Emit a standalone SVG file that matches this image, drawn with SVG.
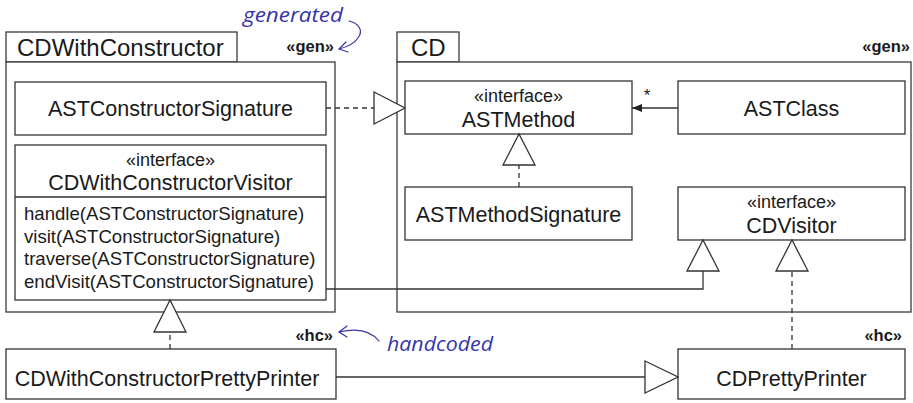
<svg xmlns="http://www.w3.org/2000/svg" width="913" height="403" viewBox="0 0 913 403">
  <defs>
    <style>
      .frame { fill: #ffffff; stroke: #3a3a3a; stroke-width: 1.3; }
      .box { fill: #ffffff; stroke: #333333; stroke-width: 1.3; }
      .sep { stroke: #333333; stroke-width: 1.3; }
      .title { font-family: "Liberation Sans", Arial, sans-serif; font-size: 24px; fill: #1a1a1a; }
      .name { font-family: "Liberation Sans", Arial, sans-serif; font-size: 21.5px; fill: #1a1a1a; text-anchor: middle; }
      .stereo { font-family: "Liberation Sans", Arial, sans-serif; font-size: 18px; fill: #1a1a1a; text-anchor: middle; }
      .op { font-family: "Liberation Sans", Arial, sans-serif; font-size: 18.6px; fill: #1a1a1a; }
      .tag { font-family: "Liberation Sans", Arial, sans-serif; font-size: 16.5px; font-weight: bold; fill: #1a1a1a; text-anchor: end; }
      .note { font-family: "Open Sans", "DejaVu Sans", sans-serif; font-style: italic; font-size: 20px; fill: #3535a8; }
      .note-arrow { fill: none; stroke: #3535a8; stroke-width: 1.2; stroke-linecap: round; stroke-linejoin: round; }
      .edge { fill: none; stroke: #333333; stroke-width: 1.3; }
      .dash { stroke-dasharray: 5 4; }
      .tri { fill: #ffffff; stroke: #333333; stroke-width: 1.3; stroke-linejoin: miter; }
      .mult { font-family: "Liberation Sans", Arial, sans-serif; font-size: 17px; fill: #1a1a1a; text-anchor: middle; }
    </style>
    <marker id="navArrow" viewBox="0 0 10 8" refX="10" refY="4" markerWidth="10" markerHeight="8" markerUnits="userSpaceOnUse" orient="auto">
      <path d="M0,0 L10,4 L0,8 Z" fill="#222222"/>
    </marker>
  </defs>

  <rect width="913" height="403" fill="#ffffff"/>

  <!-- package CDWithConstructor -->
  <g id="pkg-CDWithConstructor">
    <rect class="frame" x="6" y="32" width="231" height="30"/>
    <rect class="frame" x="6" y="62" width="329" height="250"/>
    <text class="title" x="17" y="56">CDWithConstructor</text>
    <text class="tag" x="334" y="52">«gen»</text>
  </g>

  <!-- package CD -->
  <g id="pkg-CD">
    <rect class="frame" x="397" y="32" width="62" height="30"/>
    <rect class="frame" x="397" y="62" width="514" height="250"/>
    <text class="title" x="411" y="56">CD</text>
    <text class="tag" x="910" y="52">«gen»</text>
  </g>

  <!-- classes -->
  <g id="ASTConstructorSignature">
    <rect class="box" x="15" y="82" width="311" height="53"/>
    <text class="name" x="170.5" y="116">ASTConstructorSignature</text>
  </g>

  <g id="CDWithConstructorVisitor">
    <rect class="box" x="15" y="145" width="311" height="155"/>
    <line class="sep" x1="15" y1="197" x2="326" y2="197"/>
    <text class="stereo" x="170.5" y="166">«interface»</text>
    <text class="name" x="170.5" y="190">CDWithConstructorVisitor</text>
    <text class="op" x="24" y="220">handle(ASTConstructorSignature)</text>
    <text class="op" x="24" y="243">visit(ASTConstructorSignature)</text>
    <text class="op" x="24" y="265">traverse(ASTConstructorSignature)</text>
    <text class="op" x="24" y="288">endVisit(ASTConstructorSignature)</text>
  </g>

  <g id="ASTMethod">
    <rect class="box" x="405" y="81" width="227" height="53"/>
    <text class="stereo" x="518.5" y="102">«interface»</text>
    <text class="name" x="518.5" y="127">ASTMethod</text>
  </g>

  <g id="ASTClass">
    <rect class="box" x="678" y="81" width="227" height="53"/>
    <text class="name" x="791.5" y="116">ASTClass</text>
  </g>

  <g id="ASTMethodSignature">
    <rect class="box" x="405" y="187" width="227" height="53"/>
    <text class="name" x="518.5" y="222">ASTMethodSignature</text>
  </g>

  <g id="CDVisitor">
    <rect class="box" x="678" y="187" width="227" height="53"/>
    <text class="stereo" x="791.5" y="208">«interface»</text>
    <text class="name" x="791.5" y="233">CDVisitor</text>
  </g>

  <g id="CDWithConstructorPrettyPrinter">
    <rect class="box" x="6" y="349" width="330" height="50"/>
    <text class="name" x="167" y="386">CDWithConstructorPrettyPrinter</text>
    <text class="tag" x="333" y="341">«hc»</text>
  </g>

  <g id="CDPrettyPrinter">
    <rect class="box" x="678" y="349" width="227" height="50"/>
    <text class="name" x="791.5" y="386">CDPrettyPrinter</text>
    <text class="tag" x="902" y="341">«hc»</text>
  </g>

  <!-- relations -->
  <g id="connectors">
    <!-- ASTConstructorSignature realizes ASTMethod -->
    <path class="edge dash" d="M326,108 H374"/>
    <polygon class="tri" points="374,92 405,108 374,124"/>

    <!-- ASTMethodSignature realizes ASTMethod -->
    <path class="edge dash" d="M519,187 V165"/>
    <polygon class="tri" points="503,165 519,134 535,165"/>

    <!-- ASTClass navigates to ASTMethod, multiplicity * -->
    <path class="edge" d="M678,108 H632" marker-end="url(#navArrow)"/>
    <text class="mult" x="647" y="101">*</text>

    <!-- CDWithConstructorVisitor extends CDVisitor -->
    <path class="edge" d="M326,289 H703 V271"/>
    <polygon class="tri" points="687,271 703,240 719,271"/>

    <!-- CDPrettyPrinter realizes CDVisitor -->
    <path class="edge dash" d="M792,349 V271"/>
    <polygon class="tri" points="776,271 792,240 808,271"/>

    <!-- CDWithConstructorPrettyPrinter realizes CDWithConstructorVisitor -->
    <path class="edge dash" d="M170,349 V332"/>
    <polygon class="tri" points="154,332 170,300 186,332"/>

    <!-- CDWithConstructorPrettyPrinter extends CDPrettyPrinter -->
    <path class="edge" d="M336,377 H645"/>
    <polygon class="tri" points="645,361 678,377 645,393"/>
  </g>

  <!-- hand-written remarks -->
  <g id="remark-generated">
    <text class="note" x="243" y="22" textLength="100" lengthAdjust="spacingAndGlyphs">generated</text>
    <path class="note-arrow" d="M349,21 C358,23 364,30 358,38 C354,44 347,47 339,49"/>
    <path class="note-arrow" d="M346,42 L339,49 L348,52"/>
  </g>

  <g id="remark-handcoded">
    <text class="note" x="387" y="351" textLength="106" lengthAdjust="spacingAndGlyphs">handcoded</text>
    <path class="note-arrow" d="M379,341 C372,332 360,327 339,332"/>
    <path class="note-arrow" d="M347,326 L339,332 L347,337"/>
  </g>
</svg>
